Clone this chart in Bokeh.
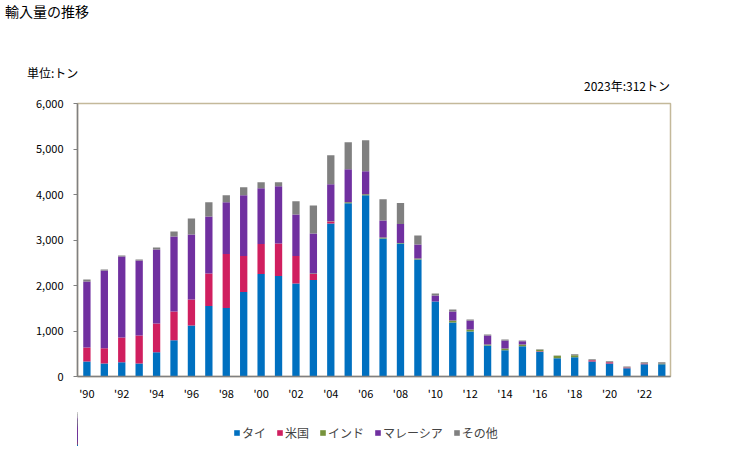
from bokeh.plotting import figure
from bokeh.layouts import column
from bokeh.models import Div, Legend, LegendItem, FixedTicker, NumeralTickFormatter, Range1d
from bokeh.embed import file_html
from bokeh.resources import INLINE

years = list(range(1990, 2024))
thai = [330, 286, 315, 286, 535, 799, 1122, 1547, 1503, 1855, 2251, 2207, 2045, 2119, 3365, 3805, 3981,
        3035, 2925, 2573, 1650, 1188, 990, 682, 579, 667, 542, 403, 425, 330, 286, 183, 271, 271]
usa = [308, 337, 543, 616, 631, 631, 572, 718, 1188, 792, 660, 718, 602, 132, 44, 0, 0,
       0, 0, 0, 0, 0, 0, 0, 0, 0, 15, 0, 0, 29, 29, 15, 15, 0]
india = [0, 0, 0, 0, 0, 0, 0, 0, 0, 0, 0, 0, 0, 10, 5, 22, 22,
         22, 10, 22, 0, 44, 44, 22, 36, 36, 29, 51, 44, 0, 0, 0, 0, 11]
malaysia = [1452, 1708, 1781, 1649, 1627, 1649, 1429, 1254, 1136, 1334, 1224, 1254, 916, 880, 810, 726, 506,
            374, 418, 308, 132, 198, 198, 198, 176, 74, 0, 0, 0, 0, 0, 0, 0, 0]
other = [43, 22, 22, 22, 44, 110, 352, 308, 154, 176, 132, 88, 286, 616, 638, 594, 682,
         462, 462, 198, 44, 44, 22, 22, 22, 14, 15, 8, 22, 22, 22, 22, 29, 30]
series_names = ["タイ", "米国", "インド", "マレーシア", "その他"]
colors = ["#0070C0", "#D01F5F", "#77933C", "#7030A0", "#808080"]
tick_years = list(range(1990, 2023, 2))
tick_labels = {y: "'" + str(y)[2:] for y in tick_years}
title_text = "輸入量の推移"
unit_text = "単位:トン"
note_text = "2023年:312トン"

JP = "Noto Sans CJK JP"
W = 721

# ---- header (titles) ----
header_html = (
    f'<div style="position:relative;width:{W}px;height:95px;font-family:\'{JP}\';color:#000;line-height:1;">'
    f'<span style="position:absolute;left:5px;top:4px;font-size:14px;white-space:nowrap;">{title_text}</span>'
    f'<span style="position:absolute;left:27px;top:67px;font-size:12px;white-space:nowrap;">{unit_text}</span>'
    f'<span style="position:absolute;right:51px;top:80px;font-size:12px;white-space:nowrap;">{note_text}</span>'
    '</div>'
)
header = Div(text=header_html, width=W, height=95, margin=0)

# ---- main chart ----
p = figure(frame_width=593, frame_height=273, output_backend="svg", toolbar_location=None,
           x_range=Range1d(1989.46, 2023.5), y_range=Range1d(0, 6000),
           min_border_left=77, min_border_right=51, min_border_top=8, min_border_bottom=30)

data = dict(year=years, thai=thai, usa=usa, india=india, malaysia=malaysia, other=other)
keys = ["thai", "usa", "india", "malaysia", "other"]
p.vbar_stack(keys, x="year", width=0.42, color=colors, source=data, line_width=0)

p.xgrid.visible = False
p.ygrid.visible = False
p.outline_line_color = "#C4B99A"
p.outline_line_width = 1.5
p.background_fill_color = "white"
p.border_fill_color = "white"

xa = p.xaxis[0]
xa.ticker = FixedTicker(ticks=tick_years)
xa.major_label_overrides = tick_labels
xa.major_tick_line_color = None
xa.major_tick_out = 0
xa.major_tick_in = 0
xa.minor_tick_line_color = None
xa.axis_line_color = "#808080"
xa.axis_line_width = 1.5
xa.major_label_standoff = 8
xa.major_label_text_font = JP
xa.major_label_text_font_size = "11px"
xa.major_label_text_color = "#000000"

ya = p.yaxis[0]
ya.ticker = FixedTicker(ticks=[0, 1000, 2000, 3000, 4000, 5000, 6000])
ya.formatter = NumeralTickFormatter(format="0,0")
ya.major_tick_in = 0
ya.major_tick_out = 4
ya.minor_tick_line_color = None
ya.axis_line_color = "#808080"
ya.major_tick_line_color = "#808080"
ya.axis_line_width = 1.5
ya.major_label_standoff = 10
ya.major_label_text_font = JP
ya.major_label_text_font_size = "11px"
ya.major_label_text_color = "#000000"

# ---- legend strip (its frame is aligned with the chart frame) ----
# zero-width, out-of-view copy of the bars: only the legend swatches show
leg = figure(width=W, height=40, output_backend="svg", toolbar_location=None,
             x_axis_type=None, y_axis_type=None, min_border=0,
             x_range=Range1d(2030, 2060), y_range=Range1d(0, 6000))
leg.outline_line_color = None
swatches = leg.vbar_stack(keys, x="year", width=0, color=colors, source=data, line_width=0)
items = [LegendItem(label=n, renderers=[r]) for n, r in zip(series_names, swatches)]
legend = Legend(items=items, orientation="horizontal", location=(156, 5),
                glyph_width=7, glyph_height=7, label_standoff=2, spacing=10,
                padding=0, margin=0, label_height=12, label_text_font=JP,
                label_text_font_size="12px", border_line_color=None, background_fill_alpha=0)
leg.add_layout(legend, "center")

layout = column(header, p, leg, spacing=0)
open("out.html", "w").write(file_html(layout, INLINE))
